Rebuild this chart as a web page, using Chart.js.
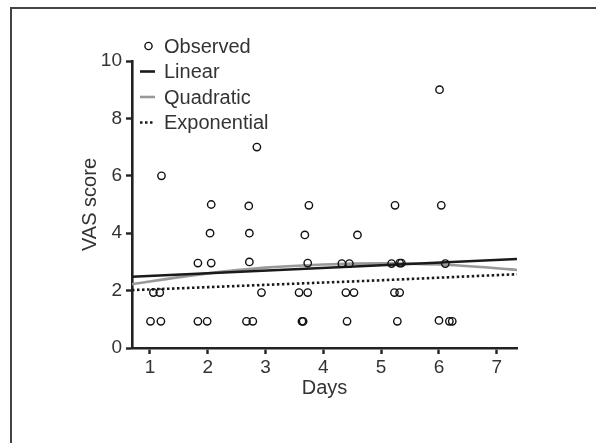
<!DOCTYPE html>
<html lang="en">
<head>
<meta charset="UTF-8">
<title>VAS score by day</title>
<script src="https://cdn.jsdelivr.net/npm/chart.js"></script>
<style>
  html, body { margin: 0; padding: 0; background: #fff; }
  #wrap { position: relative; width: 596px; height: 443px; overflow: hidden; }
  #frame { position: absolute; left: 10px; top: 7px; width: 600px; height: 450px;
           border-top: 2px solid #444; border-left: 2px solid #444; }
  canvas { position: absolute; left: 0; top: 0; }
</style>
</head>
<body>
<div id="wrap">
  <div id="frame"></div>
  <canvas id="vasChart" width="596" height="443"></canvas>
</div>
<script>
// observed scores (day, VAS)
const obsDays = [1.01, 1.19, 1.06, 1.17, 1.2, 1.83, 1.99, 1.83, 2.06, 2.04, 2.06,
  2.67, 2.78, 2.72, 2.72, 2.71, 2.85, 2.93, 3.58, 3.63, 3.65, 3.68, 3.73, 3.73, 3.75,
  4.32, 4.45, 4.39, 4.53, 4.41, 4.59, 5.18, 5.32, 5.35, 5.23, 5.32, 5.28, 5.24,
  6.0, 6.18, 6.23, 6.04, 6.11, 6.01];
const obsScores = [0.93, 0.93, 1.93, 1.93, 6, 0.93, 0.93, 2.96, 2.96, 4, 5,
  0.93, 0.93, 3, 4, 4.95, 7, 1.93, 1.93, 0.93, 0.93, 3.94, 2.96, 1.93, 4.97,
  2.94, 2.94, 1.93, 1.93, 0.93, 3.94, 2.94, 2.96, 2.96, 1.93, 1.93, 0.93, 4.97,
  0.96, 0.93, 0.93, 4.97, 2.94, 9];

// fitted curves
const linDays = [0.69, 7.35];
const linScores = [2.48, 3.10];
const fitDays = [0.69, 1, 2, 3, 4, 5, 6, 7, 7.35];
const quadScores = [2.22, 2.32, 2.60, 2.80, 2.91, 2.95, 2.91, 2.78, 2.72];
const expScores = [2.02, 2.04, 2.12, 2.20, 2.28, 2.36, 2.45, 2.54, 2.57];

const xTicks = [1, 2, 3, 4, 5, 6, 7];
const yTicks = [0, 2, 4, 6, 8, 10];

const toPts = (xs, ys) => xs.map((x, i) => ({ x: x, y: ys[i] }));

const FONT = '"Liberation Sans", Arial, sans-serif';
const TEXT = '#333';
const AXIS = '#222';

// legend drawn inside the plot, top left
const legendPlugin = {
  id: 'cornerLegend',
  afterDraw(chart) {
    const ctx = chart.ctx;
    const rows = [
      { label: 'Observed', kind: 'point' },
      { label: 'Linear', kind: 'line', color: '#1a1a1a', dash: [] },
      { label: 'Quadratic', kind: 'line', color: '#999', dash: [] },
      { label: 'Exponential', kind: 'line', color: '#1a1a1a', dash: [2.5, 2.5] }
    ];
    ctx.save();
    ctx.font = '20px ' + FONT;
    ctx.textBaseline = 'middle';
    rows.forEach((r, i) => {
      const y = 46 + i * 25.5;
      if (r.kind === 'point') {
        ctx.beginPath();
        ctx.arc(148.5, y, 3.6, 0, Math.PI * 2);
        ctx.lineWidth = 1.4;
        ctx.strokeStyle = '#111';
        ctx.stroke();
      } else {
        ctx.beginPath();
        ctx.setLineDash(r.dash);
        ctx.moveTo(140, y);
        ctx.lineTo(155, y);
        ctx.lineWidth = 2.6;
        ctx.strokeStyle = r.color;
        ctx.stroke();
        ctx.setLineDash([]);
      }
      ctx.fillStyle = TEXT;
      ctx.fillText(r.label, 164, y + 1);
    });
    ctx.restore();
  }
};

new Chart(document.getElementById('vasChart'), {
  type: 'scatter',
  data: {
    datasets: [
      {
        label: 'Observed',
        data: toPts(obsDays, obsScores),
        pointStyle: 'circle',
        pointRadius: 3.7,
        pointBorderWidth: 1.4,
        pointBorderColor: '#111',
        pointBackgroundColor: 'rgba(0,0,0,0)'
      },
      {
        label: 'Linear',
        type: 'line',
        data: toPts(linDays, linScores),
        borderColor: '#1a1a1a',
        borderWidth: 2.6,
        pointRadius: 0
      },
      {
        label: 'Quadratic',
        type: 'line',
        data: toPts(fitDays, quadScores),
        borderColor: '#999',
        borderWidth: 2.6,
        cubicInterpolationMode: 'monotone',
        pointRadius: 0
      },
      {
        label: 'Exponential',
        type: 'line',
        data: toPts(fitDays, expScores),
        borderColor: '#1a1a1a',
        borderWidth: 2.6,
        borderDash: [2.5, 2.5],
        pointRadius: 0
      }
    ]
  },
  options: {
    responsive: false,
    animation: false,
    layout: { padding: { left: 74, top: 61, right: 79, bottom: 39 } },
    plugins: {
      legend: { display: false },
      tooltip: { enabled: false }
    },
    scales: {
      x: {
        type: 'linear',
        min: 0.69,
        max: 7.35,
        afterBuildTicks: s => { s.ticks = xTicks.map(v => ({ value: v })); },
        afterFit: s => { s.height = 56; },
        grid: { drawOnChartArea: false, drawTicks: true, tickLength: 6, tickWidth: 2.4, tickColor: AXIS },
        border: { display: true, color: AXIS, width: 2.6 },
        ticks: { color: TEXT, font: { family: FONT, size: 19 }, padding: 2, maxRotation: 0 },
        title: { display: true, text: 'Days', color: TEXT, font: { family: FONT, size: 20 }, padding: { top: 0, bottom: 4 } }
      },
      y: {
        min: 0,
        max: 10,
        afterBuildTicks: s => { s.ticks = yTicks.map(v => ({ value: v })); },
        afterFit: s => { s.width = 58; },
        grid: { drawOnChartArea: false, drawTicks: true, tickLength: 6, tickWidth: 2.4, tickColor: AXIS },
        border: { display: true, color: AXIS, width: 2.6 },
        ticks: { color: TEXT, font: { family: FONT, size: 19 }, padding: 4 },
        title: { display: true, text: 'VAS score', color: TEXT, font: { family: FONT, size: 20 }, padding: { top: 4, bottom: 4 } }
      }
    }
  },
  plugins: [legendPlugin]
});
</script>
</body>
</html>
